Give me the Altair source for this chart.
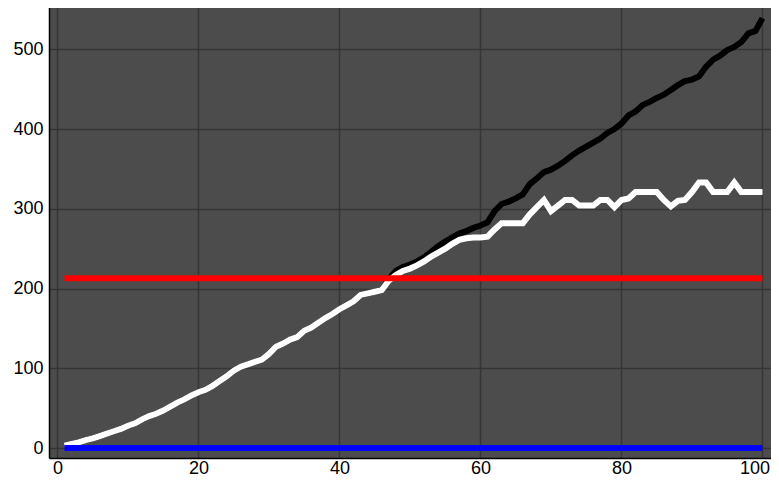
import altair as alt
import pandas as pd

x_vals = list(range(1, 101))

total = [3, 5, 7, 10, 12, 15, 18, 21, 24, 28,
         31, 36, 40, 43, 47, 52, 57, 61, 66, 70,
         73, 78, 84, 90, 97, 102, 105, 108, 111, 118,
         127, 131, 136, 139, 147, 151, 157, 163, 168, 174,
         179, 184, 192, 194, 196, 198, 212, 222, 227, 230,
         234, 239, 246, 253, 259, 264, 269, 272, 276, 279,
         283, 297, 306, 309, 313, 318, 331, 338, 346, 349,
         354, 360, 367, 373, 378, 383, 388, 395, 400, 407,
         417, 422, 430, 434, 439, 443, 449, 455, 460, 462,
         466, 478, 487, 492, 499, 503, 509, 520, 523, 539]

capped = [3, 5, 7, 10, 12, 15, 18, 21, 24, 28,
          31, 36, 40, 43, 47, 52, 57, 61, 66, 70,
          73, 78, 84, 90, 97, 102, 105, 108, 111, 118,
          127, 131, 136, 139, 147, 151, 157, 163, 168, 174,
          179, 184, 192, 194, 196, 198, 210, 217, 222, 225,
          229, 234, 240, 245, 250, 256, 261, 263, 264, 264,
          265, 274, 282, 282, 282, 282, 293, 302, 311, 297,
          304, 311, 311, 304, 304, 304, 311, 311, 302, 311,
          313, 321, 321, 321, 321, 311, 303, 310, 311, 321,
          333, 333, 321, 321, 321, 333, 321, 321, 321, 321]

threshold = [213] * 100
baseline = [0] * 100

series = [("total", total, "#000000"),
          ("capped", capped, "#ffffff"),
          ("threshold", threshold, "#ff0000"),
          ("baseline", baseline, "#0000ff")]

x_scale = alt.Scale(domain=[-1.2, 102.2], nice=False, zero=False)
y_scale = alt.Scale(domain=[-12.5, 553], nice=False, zero=False)

x_axis = alt.Axis(values=[0, 20, 40, 60, 80, 100], title=None, grid=True,
                  ticks=False, labelPadding=1, format="d",
                  labelOffset={"condition": {"test": "datum.value >= 100", "value": -8},
                               "value": 0})
y_axis = alt.Axis(values=[0, 100, 200, 300, 400, 500], title=None, grid=True,
                  ticks=False, labelPadding=6, format="d")

layers = []
for name, vals, col in series:
    df = pd.DataFrame({"x": x_vals, "y": vals})
    layers.append(
        alt.Chart(df).mark_line(color=col, strokeWidth=6, strokeJoin="miter",
                                strokeCap="butt").encode(
            x=alt.X("x:Q", scale=x_scale, axis=x_axis),
            y=alt.Y("y:Q", scale=y_scale, axis=y_axis),
        )
    )

chart = alt.layer(*layers).properties(
    width=729,
    height=451,
    autosize=alt.AutoSizeParams(type="none"),
    padding={"left": 41, "top": -1, "right": -7, "bottom": 18},
).configure_view(
    fill="#4c4c4c",
    strokeWidth=0,
).configure_axis(
    labelFont="Liberation Sans",
    labelFontSize=18,
    labelColor="#000000",
    domainColor="#000000",
    domainWidth=1.5,
    gridColor="#353535",
    gridWidth=1.5,
)

chart.save("out.html", embed_options={"renderer": "svg", "actions": False})
